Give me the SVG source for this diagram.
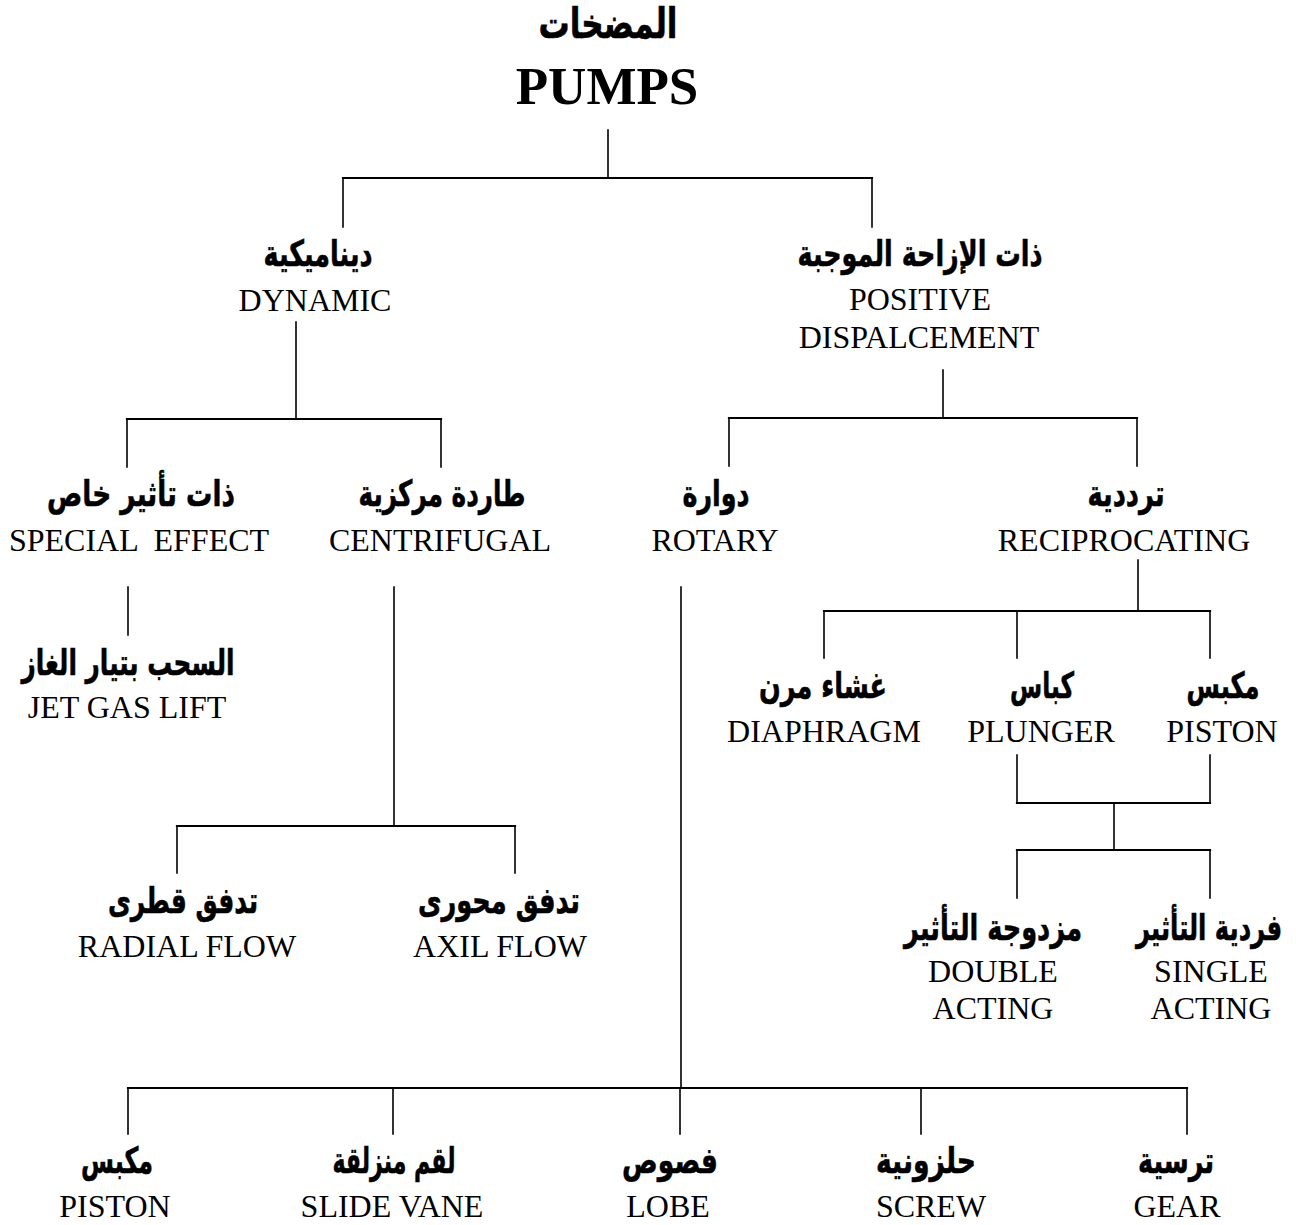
<svg xmlns="http://www.w3.org/2000/svg" width="1296" height="1225" viewBox="0 0 1296 1225">
<style>
.ar{font-family:"DejaVu Sans","Noto Sans",sans-serif;font-weight:bold;font-size:36px;text-anchor:middle;fill:#000;stroke:#000;stroke-width:0.6}
.en{font-family:"Liberation Serif","Times New Roman",serif;font-size:32px;text-anchor:middle;fill:#000;white-space:pre}
.ttl{font-family:"Liberation Serif","Times New Roman",serif;font-weight:bold;font-size:53px;text-anchor:middle;fill:#000}
.c{fill:none;stroke:#000;stroke-width:1.6;stroke-linecap:square}
.h{stroke-width:2.2}
</style>
<rect width="1296" height="1225" fill="#fff"/>
<g id="connectors">
<path class="c" d="M608,130V178M343,178V227M872,178V227"/>
<path class="c h" d="M343,178H872"/>
<path class="c" d="M296,322V419M127,419V467M441,419V467"/>
<path class="c h" d="M127,419H441"/>
<path class="c" d="M943,370V418M729,418V466M1137,418V466"/>
<path class="c h" d="M729,418H1137"/>
<path class="c" d="M128,587V635"/>
<path class="c" d="M394,587V826M177,826V873M515,826V873"/>
<path class="c h" d="M177,826H515"/>
<path class="c" d="M681,587V1088M128,1088V1134M393,1088V1134M680,1088V1134M921,1088V1134M1187,1088V1134"/>
<path class="c h" d="M128,1088H1187"/>
<path class="c" d="M1138,560V611M824,611V658M1017,611V658M1210,611V658"/>
<path class="c h" d="M824,611H1210"/>
<path class="c" d="M1017,755V803M1210,755V803M1114,803V850M1017,850V898M1210,850V898"/>
<path class="c h" d="M1017,803H1210M1017,850H1210"/>
</g>
<g id="pumps">
<text class="ar" x="608" y="38" style="font-size:42px" textLength="139" lengthAdjust="spacingAndGlyphs">المضخات</text>
<text class="ttl" x="607" y="104">PUMPS</text>
</g>
<g id="dynamic">
<text class="ar" x="318" y="266" textLength="109" lengthAdjust="spacingAndGlyphs">ديناميكية</text>
<text class="en" x="315" y="311">DYNAMIC</text>
</g>
<g id="positive-displacement">
<text class="ar" x="920" y="266" textLength="245" lengthAdjust="spacingAndGlyphs">ذات الإزاحة الموجبة</text>
<text class="en" x="920" y="310">POSITIVE</text>
<text class="en" x="919" y="348">DISPALCEMENT</text>
</g>
<g id="special-effect">
<text class="ar" x="141" y="506" textLength="188" lengthAdjust="spacingAndGlyphs">ذات تأثير خاص</text>
<text class="en" x="139" y="551" xml:space="preserve">SPECIAL  EFFECT</text>
</g>
<g id="centrifugal">
<text class="ar" x="442" y="506" textLength="167" lengthAdjust="spacingAndGlyphs">طاردة مركزية</text>
<text class="en" x="440" y="551">CENTRIFUGAL</text>
</g>
<g id="rotary">
<text class="ar" x="716" y="506" textLength="67" lengthAdjust="spacingAndGlyphs">دوارة</text>
<text class="en" x="715" y="551">ROTARY</text>
</g>
<g id="reciprocating">
<text class="ar" x="1126" y="506" textLength="77" lengthAdjust="spacingAndGlyphs">ترددية</text>
<text class="en" x="1124" y="551">RECIPROCATING</text>
</g>
<g id="jet-gas-lift">
<text class="ar" x="128" y="675" textLength="213" lengthAdjust="spacingAndGlyphs">السحب بتيار الغاز</text>
<text class="en" x="127" y="718">JET GAS LIFT</text>
</g>
<g id="diaphragm">
<text class="ar" x="823" y="698" textLength="128" lengthAdjust="spacingAndGlyphs">غشاء مرن</text>
<text class="en" x="824" y="742">DIAPHRAGM</text>
</g>
<g id="plunger">
<text class="ar" x="1042" y="698" textLength="64" lengthAdjust="spacingAndGlyphs">كباس</text>
<text class="en" x="1041" y="742">PLUNGER</text>
</g>
<g id="piston-recip">
<text class="ar" x="1223" y="698" textLength="73" lengthAdjust="spacingAndGlyphs">مكبس</text>
<text class="en" x="1222" y="742">PISTON</text>
</g>
<g id="double-acting">
<text class="ar" x="993" y="940" textLength="178" lengthAdjust="spacingAndGlyphs">مزدوجة التأثير</text>
<text class="en" x="993" y="982">DOUBLE</text>
<text class="en" x="993" y="1019">ACTING</text>
</g>
<g id="single-acting">
<text class="ar" x="1209" y="940" textLength="146" lengthAdjust="spacingAndGlyphs">فردية التأثير</text>
<text class="en" x="1211" y="982">SINGLE</text>
<text class="en" x="1211" y="1019">ACTING</text>
</g>
<g id="radial-flow">
<text class="ar" x="183" y="913" textLength="150" lengthAdjust="spacingAndGlyphs">تدفق قطرى</text>
<text class="en" x="187" y="957">RADIAL FLOW</text>
</g>
<g id="axil-flow">
<text class="ar" x="499" y="913" textLength="162" lengthAdjust="spacingAndGlyphs">تدفق محورى</text>
<text class="en" x="500" y="957">AXIL FLOW</text>
</g>
<g id="piston-rotary">
<text class="ar" x="117" y="1173" textLength="72" lengthAdjust="spacingAndGlyphs">مكبس</text>
<text class="en" x="115" y="1217">PISTON</text>
</g>
<g id="slide-vane">
<text class="ar" x="394" y="1173" textLength="123" lengthAdjust="spacingAndGlyphs">لقم منزلقة</text>
<text class="en" x="392" y="1217">SLIDE VANE</text>
</g>
<g id="lobe">
<text class="ar" x="670" y="1173" textLength="96" lengthAdjust="spacingAndGlyphs">فصوص</text>
<text class="en" x="668" y="1217">LOBE</text>
</g>
<g id="screw">
<text class="ar" x="926" y="1173" textLength="100" lengthAdjust="spacingAndGlyphs">حلزونية</text>
<text class="en" x="931" y="1217">SCREW</text>
</g>
<g id="gear">
<text class="ar" x="1176" y="1173" textLength="76" lengthAdjust="spacingAndGlyphs">ترسية</text>
<text class="en" x="1177" y="1217">GEAR</text>
</g>
</svg>
